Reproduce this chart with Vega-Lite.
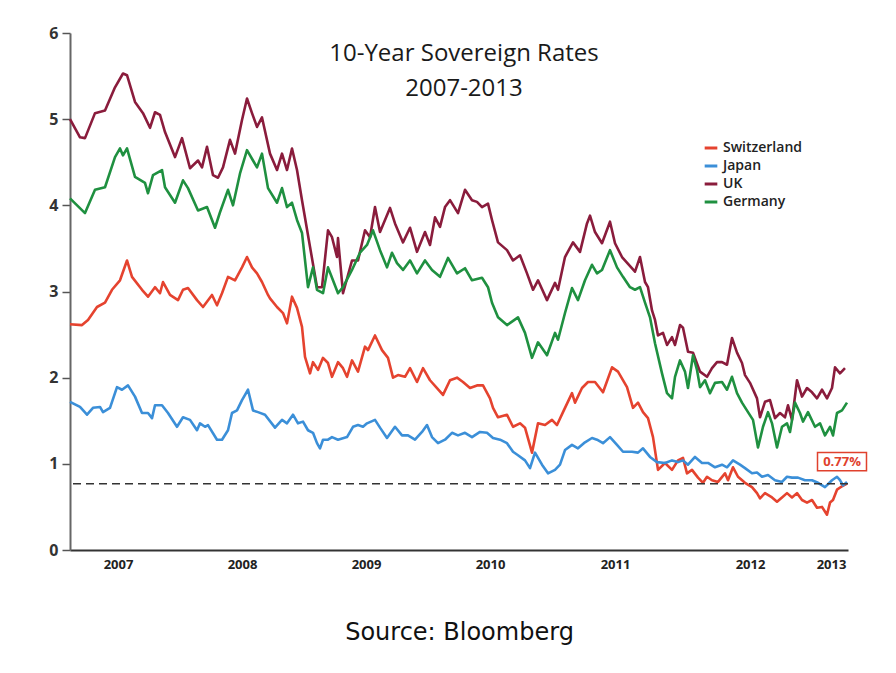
{
  "$schema": "https://vega.github.io/schema/vega-lite/v6.json",
  "width": 778,
  "height": 517,
  "autosize": {"type": "none"},
  "padding": {"left": 70, "top": 33, "right": 48, "bottom": 123},
  "background": "white",
  "title": {
    "text": ["10-Year Sovereign Rates", "2007-2013"],
    "font": "Open Sans",
    "fontSize": 24,
    "fontWeight": "normal",
    "color": "#1a1a1a",
    "anchor": "middle",
    "offset": -76,
    "lineHeight": 35,
    "dx": 5
  },
  "config": {
    "view": {"stroke": null},
    "axis": {"grid": false}
  },
  "datasets": {
    "rates": [
      {"c":"UK","t":2007.064,"v":5.00},{"c":"UK","t":2007.144,"v":4.79},{"c":"UK","t":2007.184,"v":4.78},{"c":"UK","t":2007.264,"v":5.07},{"c":"UK","t":2007.344,"v":5.10},{"c":"UK","t":2007.424,"v":5.37},{"c":"UK","t":2007.488,"v":5.53},{"c":"UK","t":2007.52,"v":5.51},{"c":"UK","t":2007.584,"v":5.20},{"c":"UK","t":2007.648,"v":5.07},{"c":"UK","t":2007.704,"v":4.90},{"c":"UK","t":2007.744,"v":5.08},{"c":"UK","t":2007.784,"v":5.05},{"c":"UK","t":2007.824,"v":4.85},{"c":"UK","t":2007.904,"v":4.56},{"c":"UK","t":2007.96,"v":4.78},{"c":"UK","t":2008.024,"v":4.43},{"c":"UK","t":2008.088,"v":4.52},{"c":"UK","t":2008.12,"v":4.44},{"c":"UK","t":2008.16,"v":4.68},{"c":"UK","t":2008.208,"v":4.35},{"c":"UK","t":2008.248,"v":4.32},{"c":"UK","t":2008.288,"v":4.44},{"c":"UK","t":2008.344,"v":4.76},{"c":"UK","t":2008.384,"v":4.60},{"c":"UK","t":2008.44,"v":4.99},{"c":"UK","t":2008.48,"v":5.24},{"c":"UK","t":2008.52,"v":5.07},{"c":"UK","t":2008.56,"v":4.91},{"c":"UK","t":2008.6,"v":5.02},{"c":"UK","t":2008.664,"v":4.60},{"c":"UK","t":2008.72,"v":4.41},{"c":"UK","t":2008.76,"v":4.60},{"c":"UK","t":2008.8,"v":4.41},{"c":"UK","t":2008.84,"v":4.66},{"c":"UK","t":2008.88,"v":4.41},{"c":"UK","t":2008.92,"v":4.06},{"c":"UK","t":2008.984,"v":3.52},{"c":"UK","t":2009.04,"v":3.05},{"c":"UK","t":2009.08,"v":3.05},{"c":"UK","t":2009.128,"v":3.71},{"c":"UK","t":2009.16,"v":3.63},{"c":"UK","t":2009.2,"v":3.40},{"c":"UK","t":2009.208,"v":3.62},{"c":"UK","t":2009.248,"v":2.98},{"c":"UK","t":2009.32,"v":3.36},{"c":"UK","t":2009.368,"v":3.36},{"c":"UK","t":2009.424,"v":3.71},{"c":"UK","t":2009.464,"v":3.63},{"c":"UK","t":2009.504,"v":3.98},{"c":"UK","t":2009.544,"v":3.69},{"c":"UK","t":2009.624,"v":3.97},{"c":"UK","t":2009.664,"v":3.79},{"c":"UK","t":2009.728,"v":3.57},{"c":"UK","t":2009.784,"v":3.74},{"c":"UK","t":2009.84,"v":3.46},{"c":"UK","t":2009.904,"v":3.69},{"c":"UK","t":2009.944,"v":3.54},{"c":"UK","t":2009.984,"v":3.86},{"c":"UK","t":2010.024,"v":3.75},{"c":"UK","t":2010.064,"v":3.98},{"c":"UK","t":2010.104,"v":4.06},{"c":"UK","t":2010.168,"v":3.91},{"c":"UK","t":2010.224,"v":4.18},{"c":"UK","t":2010.28,"v":4.06},{"c":"UK","t":2010.32,"v":4.04},{"c":"UK","t":2010.36,"v":3.98},{"c":"UK","t":2010.408,"v":4.02},{"c":"UK","t":2010.44,"v":3.83},{"c":"UK","t":2010.488,"v":3.57},{"c":"UK","t":2010.56,"v":3.48},{"c":"UK","t":2010.608,"v":3.36},{"c":"UK","t":2010.664,"v":3.42},{"c":"UK","t":2010.72,"v":3.21},{"c":"UK","t":2010.768,"v":3.02},{"c":"UK","t":2010.808,"v":3.13},{"c":"UK","t":2010.88,"v":2.90},{"c":"UK","t":2010.944,"v":3.10},{"c":"UK","t":2010.968,"v":3.02},{"c":"UK","t":2011.024,"v":3.40},{"c":"UK","t":2011.088,"v":3.57},{"c":"UK","t":2011.144,"v":3.46},{"c":"UK","t":2011.2,"v":3.79},{"c":"UK","t":2011.224,"v":3.88},{"c":"UK","t":2011.264,"v":3.69},{"c":"UK","t":2011.32,"v":3.56},{"c":"UK","t":2011.384,"v":3.81},{"c":"UK","t":2011.424,"v":3.56},{"c":"UK","t":2011.48,"v":3.40},{"c":"UK","t":2011.584,"v":3.23},{"c":"UK","t":2011.624,"v":3.40},{"c":"UK","t":2011.664,"v":3.11},{"c":"UK","t":2011.688,"v":3.05},{"c":"UK","t":2011.72,"v":2.78},{"c":"UK","t":2011.744,"v":2.67},{"c":"UK","t":2011.768,"v":2.49},{"c":"UK","t":2011.808,"v":2.52},{"c":"UK","t":2011.84,"v":2.38},{"c":"UK","t":2011.88,"v":2.47},{"c":"UK","t":2011.904,"v":2.38},{"c":"UK","t":2011.944,"v":2.61},{"c":"UK","t":2011.968,"v":2.58},{"c":"UK","t":2012.008,"v":2.30},{"c":"UK","t":2012.048,"v":2.29},{"c":"UK","t":2012.104,"v":2.07},{"c":"UK","t":2012.16,"v":2.01},{"c":"UK","t":2012.2,"v":2.11},{"c":"UK","t":2012.24,"v":2.18},{"c":"UK","t":2012.28,"v":2.18},{"c":"UK","t":2012.32,"v":2.15},{"c":"UK","t":2012.36,"v":2.46},{"c":"UK","t":2012.4,"v":2.29},{"c":"UK","t":2012.44,"v":2.17},{"c":"UK","t":2012.464,"v":2.03},{"c":"UK","t":2012.504,"v":1.94},{"c":"UK","t":2012.56,"v":1.76},{"c":"UK","t":2012.584,"v":1.54},{"c":"UK","t":2012.624,"v":1.72},{"c":"UK","t":2012.664,"v":1.74},{"c":"UK","t":2012.704,"v":1.53},{"c":"UK","t":2012.744,"v":1.59},{"c":"UK","t":2012.784,"v":1.54},{"c":"UK","t":2012.808,"v":1.68},{"c":"UK","t":2012.84,"v":1.51},{"c":"UK","t":2012.88,"v":1.97},{"c":"UK","t":2012.92,"v":1.78},{"c":"UK","t":2012.96,"v":1.88},{"c":"UK","t":2013.0,"v":1.83},{"c":"UK","t":2013.04,"v":1.76},{"c":"UK","t":2013.08,"v":1.86},{"c":"UK","t":2013.12,"v":1.76},{"c":"UK","t":2013.16,"v":1.88},{"c":"UK","t":2013.184,"v":2.12},{"c":"UK","t":2013.224,"v":2.05},{"c":"UK","t":2013.264,"v":2.11},

      {"c":"Germany","t":2007.064,"v":4.08},{"c":"Germany","t":2007.184,"v":3.91},{"c":"Germany","t":2007.264,"v":4.18},{"c":"Germany","t":2007.344,"v":4.21},{"c":"Germany","t":2007.424,"v":4.56},{"c":"Germany","t":2007.464,"v":4.66},{"c":"Germany","t":2007.488,"v":4.58},{"c":"Germany","t":2007.52,"v":4.66},{"c":"Germany","t":2007.584,"v":4.33},{"c":"Germany","t":2007.664,"v":4.26},{"c":"Germany","t":2007.688,"v":4.14},{"c":"Germany","t":2007.728,"v":4.35},{"c":"Germany","t":2007.8,"v":4.41},{"c":"Germany","t":2007.824,"v":4.21},{"c":"Germany","t":2007.904,"v":4.03},{"c":"Germany","t":2007.968,"v":4.29},{"c":"Germany","t":2008.008,"v":4.20},{"c":"Germany","t":2008.088,"v":3.94},{"c":"Germany","t":2008.16,"v":3.98},{"c":"Germany","t":2008.224,"v":3.74},{"c":"Germany","t":2008.264,"v":3.92},{"c":"Germany","t":2008.328,"v":4.18},{"c":"Germany","t":2008.368,"v":4.00},{"c":"Germany","t":2008.424,"v":4.37},{"c":"Germany","t":2008.48,"v":4.64},{"c":"Germany","t":2008.528,"v":4.52},{"c":"Germany","t":2008.56,"v":4.44},{"c":"Germany","t":2008.6,"v":4.60},{"c":"Germany","t":2008.648,"v":4.20},{"c":"Germany","t":2008.72,"v":4.03},{"c":"Germany","t":2008.76,"v":4.20},{"c":"Germany","t":2008.8,"v":3.98},{"c":"Germany","t":2008.84,"v":4.03},{"c":"Germany","t":2008.88,"v":3.83},{"c":"Germany","t":2008.92,"v":3.68},{"c":"Germany","t":2008.968,"v":3.05},{"c":"Germany","t":2009.008,"v":3.28},{"c":"Germany","t":2009.04,"v":3.02},{"c":"Germany","t":2009.088,"v":2.98},{"c":"Germany","t":2009.128,"v":3.28},{"c":"Germany","t":2009.16,"v":3.16},{"c":"Germany","t":2009.208,"v":2.98},{"c":"Germany","t":2009.248,"v":3.05},{"c":"Germany","t":2009.32,"v":3.25},{"c":"Germany","t":2009.384,"v":3.45},{"c":"Germany","t":2009.44,"v":3.54},{"c":"Germany","t":2009.488,"v":3.71},{"c":"Germany","t":2009.544,"v":3.48},{"c":"Germany","t":2009.6,"v":3.28},{"c":"Germany","t":2009.64,"v":3.45},{"c":"Germany","t":2009.68,"v":3.33},{"c":"Germany","t":2009.728,"v":3.25},{"c":"Germany","t":2009.784,"v":3.36},{"c":"Germany","t":2009.84,"v":3.21},{"c":"Germany","t":2009.904,"v":3.36},{"c":"Germany","t":2009.96,"v":3.25},{"c":"Germany","t":2010.024,"v":3.17},{"c":"Germany","t":2010.088,"v":3.39},{"c":"Germany","t":2010.16,"v":3.21},{"c":"Germany","t":2010.224,"v":3.27},{"c":"Germany","t":2010.28,"v":3.13},{"c":"Germany","t":2010.36,"v":3.16},{"c":"Germany","t":2010.408,"v":3.05},{"c":"Germany","t":2010.44,"v":2.87},{"c":"Germany","t":2010.488,"v":2.70},{"c":"Germany","t":2010.56,"v":2.61},{"c":"Germany","t":2010.6,"v":2.65},{"c":"Germany","t":2010.648,"v":2.70},{"c":"Germany","t":2010.704,"v":2.52},{"c":"Germany","t":2010.76,"v":2.23},{"c":"Germany","t":2010.808,"v":2.41},{"c":"Germany","t":2010.88,"v":2.26},{"c":"Germany","t":2010.944,"v":2.52},{"c":"Germany","t":2010.968,"v":2.44},{"c":"Germany","t":2011.024,"v":2.75},{"c":"Germany","t":2011.08,"v":3.04},{"c":"Germany","t":2011.128,"v":2.90},{"c":"Germany","t":2011.184,"v":3.13},{"c":"Germany","t":2011.24,"v":3.31},{"c":"Germany","t":2011.28,"v":3.21},{"c":"Germany","t":2011.32,"v":3.25},{"c":"Germany","t":2011.384,"v":3.48},{"c":"Germany","t":2011.44,"v":3.28},{"c":"Germany","t":2011.488,"v":3.17},{"c":"Germany","t":2011.544,"v":3.05},{"c":"Germany","t":2011.584,"v":3.02},{"c":"Germany","t":2011.624,"v":3.05},{"c":"Germany","t":2011.664,"v":2.87},{"c":"Germany","t":2011.704,"v":2.70},{"c":"Germany","t":2011.744,"v":2.40},{"c":"Germany","t":2011.8,"v":2.05},{"c":"Germany","t":2011.84,"v":1.82},{"c":"Germany","t":2011.88,"v":1.76},{"c":"Germany","t":2011.904,"v":2.01},{"c":"Germany","t":2011.944,"v":2.20},{"c":"Germany","t":2011.984,"v":2.07},{"c":"Germany","t":2012.008,"v":1.88},{"c":"Germany","t":2012.048,"v":2.26},{"c":"Germany","t":2012.08,"v":2.09},{"c":"Germany","t":2012.104,"v":1.89},{"c":"Germany","t":2012.144,"v":1.97},{"c":"Germany","t":2012.184,"v":1.82},{"c":"Germany","t":2012.224,"v":1.94},{"c":"Germany","t":2012.28,"v":1.95},{"c":"Germany","t":2012.32,"v":1.86},{"c":"Germany","t":2012.36,"v":2.01},{"c":"Germany","t":2012.4,"v":1.82},{"c":"Germany","t":2012.44,"v":1.71},{"c":"Germany","t":2012.488,"v":1.60},{"c":"Germany","t":2012.528,"v":1.51},{"c":"Germany","t":2012.568,"v":1.19},{"c":"Germany","t":2012.608,"v":1.43},{"c":"Germany","t":2012.648,"v":1.60},{"c":"Germany","t":2012.68,"v":1.47},{"c":"Germany","t":2012.72,"v":1.19},{"c":"Germany","t":2012.76,"v":1.43},{"c":"Germany","t":2012.8,"v":1.47},{"c":"Germany","t":2012.824,"v":1.37},{"c":"Germany","t":2012.864,"v":1.71},{"c":"Germany","t":2012.904,"v":1.59},{"c":"Germany","t":2012.928,"v":1.49},{"c":"Germany","t":2012.968,"v":1.60},{"c":"Germany","t":2013.024,"v":1.43},{"c":"Germany","t":2013.064,"v":1.47},{"c":"Germany","t":2013.104,"v":1.33},{"c":"Germany","t":2013.144,"v":1.43},{"c":"Germany","t":2013.168,"v":1.33},{"c":"Germany","t":2013.2,"v":1.59},{"c":"Germany","t":2013.24,"v":1.62},{"c":"Germany","t":2013.28,"v":1.71},

      {"c":"Switzerland","t":2007.064,"v":2.62},{"c":"Switzerland","t":2007.16,"v":2.61},{"c":"Switzerland","t":2007.208,"v":2.67},{"c":"Switzerland","t":2007.28,"v":2.82},{"c":"Switzerland","t":2007.344,"v":2.87},{"c":"Switzerland","t":2007.4,"v":3.02},{"c":"Switzerland","t":2007.464,"v":3.13},{"c":"Switzerland","t":2007.52,"v":3.36},{"c":"Switzerland","t":2007.56,"v":3.17},{"c":"Switzerland","t":2007.64,"v":3.02},{"c":"Switzerland","t":2007.688,"v":2.94},{"c":"Switzerland","t":2007.744,"v":3.05},{"c":"Switzerland","t":2007.784,"v":2.98},{"c":"Switzerland","t":2007.808,"v":3.11},{"c":"Switzerland","t":2007.864,"v":2.96},{"c":"Switzerland","t":2007.928,"v":2.90},{"c":"Switzerland","t":2007.968,"v":3.02},{"c":"Switzerland","t":2008.008,"v":3.04},{"c":"Switzerland","t":2008.08,"v":2.90},{"c":"Switzerland","t":2008.128,"v":2.82},{"c":"Switzerland","t":2008.2,"v":2.96},{"c":"Switzerland","t":2008.24,"v":2.84},{"c":"Switzerland","t":2008.28,"v":2.98},{"c":"Switzerland","t":2008.328,"v":3.17},{"c":"Switzerland","t":2008.384,"v":3.13},{"c":"Switzerland","t":2008.44,"v":3.28},{"c":"Switzerland","t":2008.48,"v":3.40},{"c":"Switzerland","t":2008.52,"v":3.28},{"c":"Switzerland","t":2008.56,"v":3.21},{"c":"Switzerland","t":2008.6,"v":3.11},{"c":"Switzerland","t":2008.648,"v":2.96},{"c":"Switzerland","t":2008.664,"v":2.92},{"c":"Switzerland","t":2008.72,"v":2.82},{"c":"Switzerland","t":2008.768,"v":2.75},{"c":"Switzerland","t":2008.8,"v":2.63},{"c":"Switzerland","t":2008.84,"v":2.94},{"c":"Switzerland","t":2008.88,"v":2.81},{"c":"Switzerland","t":2008.92,"v":2.59},{"c":"Switzerland","t":2008.944,"v":2.24},{"c":"Switzerland","t":2008.984,"v":2.05},{"c":"Switzerland","t":2009.008,"v":2.18},{"c":"Switzerland","t":2009.048,"v":2.09},{"c":"Switzerland","t":2009.088,"v":2.23},{"c":"Switzerland","t":2009.128,"v":2.17},{"c":"Switzerland","t":2009.16,"v":2.01},{"c":"Switzerland","t":2009.208,"v":2.18},{"c":"Switzerland","t":2009.248,"v":2.11},{"c":"Switzerland","t":2009.28,"v":2.01},{"c":"Switzerland","t":2009.32,"v":2.20},{"c":"Switzerland","t":2009.368,"v":2.07},{"c":"Switzerland","t":2009.424,"v":2.36},{"c":"Switzerland","t":2009.448,"v":2.32},{"c":"Switzerland","t":2009.504,"v":2.49},{"c":"Switzerland","t":2009.56,"v":2.32},{"c":"Switzerland","t":2009.608,"v":2.23},{"c":"Switzerland","t":2009.648,"v":2.00},{"c":"Switzerland","t":2009.688,"v":2.03},{"c":"Switzerland","t":2009.744,"v":2.01},{"c":"Switzerland","t":2009.784,"v":2.11},{"c":"Switzerland","t":2009.84,"v":1.95},{"c":"Switzerland","t":2009.888,"v":2.11},{"c":"Switzerland","t":2009.944,"v":1.97},{"c":"Switzerland","t":2010.0,"v":1.88},{"c":"Switzerland","t":2010.048,"v":1.80},{"c":"Switzerland","t":2010.104,"v":1.97},{"c":"Switzerland","t":2010.16,"v":2.00},{"c":"Switzerland","t":2010.208,"v":1.95},{"c":"Switzerland","t":2010.264,"v":1.88},{"c":"Switzerland","t":2010.32,"v":1.91},{"c":"Switzerland","t":2010.368,"v":1.91},{"c":"Switzerland","t":2010.424,"v":1.76},{"c":"Switzerland","t":2010.448,"v":1.65},{"c":"Switzerland","t":2010.488,"v":1.54},{"c":"Switzerland","t":2010.56,"v":1.57},{"c":"Switzerland","t":2010.608,"v":1.43},{"c":"Switzerland","t":2010.664,"v":1.47},{"c":"Switzerland","t":2010.704,"v":1.42},{"c":"Switzerland","t":2010.76,"v":1.13},{"c":"Switzerland","t":2010.808,"v":1.47},{"c":"Switzerland","t":2010.864,"v":1.45},{"c":"Switzerland","t":2010.92,"v":1.51},{"c":"Switzerland","t":2010.96,"v":1.45},{"c":"Switzerland","t":2011.008,"v":1.60},{"c":"Switzerland","t":2011.08,"v":1.82},{"c":"Switzerland","t":2011.104,"v":1.71},{"c":"Switzerland","t":2011.16,"v":1.88},{"c":"Switzerland","t":2011.208,"v":1.95},{"c":"Switzerland","t":2011.264,"v":1.95},{"c":"Switzerland","t":2011.328,"v":1.83},{"c":"Switzerland","t":2011.4,"v":2.12},{"c":"Switzerland","t":2011.448,"v":2.07},{"c":"Switzerland","t":2011.52,"v":1.89},{"c":"Switzerland","t":2011.568,"v":1.65},{"c":"Switzerland","t":2011.608,"v":1.71},{"c":"Switzerland","t":2011.648,"v":1.60},{"c":"Switzerland","t":2011.688,"v":1.53},{"c":"Switzerland","t":2011.728,"v":1.31},{"c":"Switzerland","t":2011.768,"v":0.93},{"c":"Switzerland","t":2011.824,"v":1.01},{"c":"Switzerland","t":2011.88,"v":0.93},{"c":"Switzerland","t":2011.928,"v":1.04},{"c":"Switzerland","t":2011.968,"v":1.07},{"c":"Switzerland","t":2012.0,"v":0.89},{"c":"Switzerland","t":2012.04,"v":0.93},{"c":"Switzerland","t":2012.088,"v":0.84},{"c":"Switzerland","t":2012.128,"v":0.78},{"c":"Switzerland","t":2012.16,"v":0.85},{"c":"Switzerland","t":2012.2,"v":0.81},{"c":"Switzerland","t":2012.248,"v":0.79},{"c":"Switzerland","t":2012.304,"v":0.89},{"c":"Switzerland","t":2012.328,"v":0.81},{"c":"Switzerland","t":2012.368,"v":0.96},{"c":"Switzerland","t":2012.408,"v":0.85},{"c":"Switzerland","t":2012.464,"v":0.78},{"c":"Switzerland","t":2012.52,"v":0.73},{"c":"Switzerland","t":2012.56,"v":0.66},{"c":"Switzerland","t":2012.584,"v":0.60},{"c":"Switzerland","t":2012.624,"v":0.66},{"c":"Switzerland","t":2012.68,"v":0.61},{"c":"Switzerland","t":2012.72,"v":0.56},{"c":"Switzerland","t":2012.76,"v":0.61},{"c":"Switzerland","t":2012.8,"v":0.66},{"c":"Switzerland","t":2012.84,"v":0.61},{"c":"Switzerland","t":2012.88,"v":0.66},{"c":"Switzerland","t":2012.92,"v":0.58},{"c":"Switzerland","t":2012.96,"v":0.55},{"c":"Switzerland","t":2013.0,"v":0.58},{"c":"Switzerland","t":2013.04,"v":0.49},{"c":"Switzerland","t":2013.08,"v":0.50},{"c":"Switzerland","t":2013.12,"v":0.41},{"c":"Switzerland","t":2013.144,"v":0.55},{"c":"Switzerland","t":2013.168,"v":0.58},{"c":"Switzerland","t":2013.2,"v":0.70},{"c":"Switzerland","t":2013.24,"v":0.74},{"c":"Switzerland","t":2013.28,"v":0.77},

      {"c":"Japan","t":2007.064,"v":1.72},{"c":"Japan","t":2007.144,"v":1.66},{"c":"Japan","t":2007.2,"v":1.57},{"c":"Japan","t":2007.248,"v":1.65},{"c":"Japan","t":2007.304,"v":1.66},{"c":"Japan","t":2007.328,"v":1.60},{"c":"Japan","t":2007.384,"v":1.65},{"c":"Japan","t":2007.44,"v":1.89},{"c":"Japan","t":2007.48,"v":1.86},{"c":"Japan","t":2007.528,"v":1.91},{"c":"Japan","t":2007.584,"v":1.78},{"c":"Japan","t":2007.64,"v":1.59},{"c":"Japan","t":2007.688,"v":1.59},{"c":"Japan","t":2007.72,"v":1.53},{"c":"Japan","t":2007.744,"v":1.68},{"c":"Japan","t":2007.8,"v":1.68},{"c":"Japan","t":2007.848,"v":1.59},{"c":"Japan","t":2007.92,"v":1.43},{"c":"Japan","t":2007.968,"v":1.54},{"c":"Japan","t":2008.024,"v":1.51},{"c":"Japan","t":2008.08,"v":1.39},{"c":"Japan","t":2008.104,"v":1.47},{"c":"Japan","t":2008.144,"v":1.43},{"c":"Japan","t":2008.168,"v":1.45},{"c":"Japan","t":2008.24,"v":1.28},{"c":"Japan","t":2008.28,"v":1.28},{"c":"Japan","t":2008.328,"v":1.39},{"c":"Japan","t":2008.36,"v":1.59},{"c":"Japan","t":2008.4,"v":1.62},{"c":"Japan","t":2008.44,"v":1.74},{"c":"Japan","t":2008.488,"v":1.86},{"c":"Japan","t":2008.528,"v":1.62},{"c":"Japan","t":2008.568,"v":1.60},{"c":"Japan","t":2008.624,"v":1.57},{"c":"Japan","t":2008.704,"v":1.42},{"c":"Japan","t":2008.76,"v":1.51},{"c":"Japan","t":2008.8,"v":1.47},{"c":"Japan","t":2008.848,"v":1.57},{"c":"Japan","t":2008.888,"v":1.47},{"c":"Japan","t":2008.928,"v":1.49},{"c":"Japan","t":2008.968,"v":1.39},{"c":"Japan","t":2009.008,"v":1.36},{"c":"Japan","t":2009.04,"v":1.24},{"c":"Japan","t":2009.064,"v":1.18},{"c":"Japan","t":2009.088,"v":1.28},{"c":"Japan","t":2009.128,"v":1.28},{"c":"Japan","t":2009.16,"v":1.31},{"c":"Japan","t":2009.208,"v":1.28},{"c":"Japan","t":2009.28,"v":1.31},{"c":"Japan","t":2009.328,"v":1.43},{"c":"Japan","t":2009.368,"v":1.45},{"c":"Japan","t":2009.408,"v":1.43},{"c":"Japan","t":2009.44,"v":1.47},{"c":"Japan","t":2009.504,"v":1.51},{"c":"Japan","t":2009.544,"v":1.42},{"c":"Japan","t":2009.6,"v":1.30},{"c":"Japan","t":2009.664,"v":1.43},{"c":"Japan","t":2009.72,"v":1.33},{"c":"Japan","t":2009.768,"v":1.33},{"c":"Japan","t":2009.824,"v":1.28},{"c":"Japan","t":2009.88,"v":1.37},{"c":"Japan","t":2009.92,"v":1.45},{"c":"Japan","t":2009.96,"v":1.31},{"c":"Japan","t":2010.008,"v":1.24},{"c":"Japan","t":2010.064,"v":1.28},{"c":"Japan","t":2010.12,"v":1.36},{"c":"Japan","t":2010.168,"v":1.33},{"c":"Japan","t":2010.224,"v":1.36},{"c":"Japan","t":2010.28,"v":1.31},{"c":"Japan","t":2010.344,"v":1.37},{"c":"Japan","t":2010.4,"v":1.36},{"c":"Japan","t":2010.448,"v":1.30},{"c":"Japan","t":2010.504,"v":1.28},{"c":"Japan","t":2010.56,"v":1.24},{"c":"Japan","t":2010.608,"v":1.14},{"c":"Japan","t":2010.648,"v":1.10},{"c":"Japan","t":2010.704,"v":1.04},{"c":"Japan","t":2010.744,"v":0.95},{"c":"Japan","t":2010.784,"v":1.13},{"c":"Japan","t":2010.84,"v":0.99},{"c":"Japan","t":2010.888,"v":0.89},{"c":"Japan","t":2010.944,"v":0.93},{"c":"Japan","t":2010.984,"v":0.99},{"c":"Japan","t":2011.024,"v":1.16},{"c":"Japan","t":2011.08,"v":1.22},{"c":"Japan","t":2011.128,"v":1.18},{"c":"Japan","t":2011.184,"v":1.25},{"c":"Japan","t":2011.24,"v":1.30},{"c":"Japan","t":2011.28,"v":1.28},{"c":"Japan","t":2011.328,"v":1.24},{"c":"Japan","t":2011.384,"v":1.31},{"c":"Japan","t":2011.44,"v":1.22},{"c":"Japan","t":2011.488,"v":1.14},{"c":"Japan","t":2011.56,"v":1.14},{"c":"Japan","t":2011.608,"v":1.13},{"c":"Japan","t":2011.648,"v":1.18},{"c":"Japan","t":2011.704,"v":1.08},{"c":"Japan","t":2011.76,"v":1.02},{"c":"Japan","t":2011.824,"v":1.01},{"c":"Japan","t":2011.88,"v":1.04},{"c":"Japan","t":2011.928,"v":1.02},{"c":"Japan","t":2011.968,"v":1.04},{"c":"Japan","t":2012.008,"v":0.99},{"c":"Japan","t":2012.064,"v":1.08},{"c":"Japan","t":2012.12,"v":1.01},{"c":"Japan","t":2012.168,"v":1.01},{"c":"Japan","t":2012.224,"v":0.96},{"c":"Japan","t":2012.28,"v":0.99},{"c":"Japan","t":2012.32,"v":0.96},{"c":"Japan","t":2012.368,"v":1.04},{"c":"Japan","t":2012.424,"v":0.99},{"c":"Japan","t":2012.464,"v":0.95},{"c":"Japan","t":2012.52,"v":0.89},{"c":"Japan","t":2012.56,"v":0.90},{"c":"Japan","t":2012.6,"v":0.85},{"c":"Japan","t":2012.648,"v":0.87},{"c":"Japan","t":2012.704,"v":0.81},{"c":"Japan","t":2012.76,"v":0.79},{"c":"Japan","t":2012.8,"v":0.85},{"c":"Japan","t":2012.84,"v":0.84},{"c":"Japan","t":2012.888,"v":0.84},{"c":"Japan","t":2012.944,"v":0.81},{"c":"Japan","t":2013.0,"v":0.81},{"c":"Japan","t":2013.048,"v":0.78},{"c":"Japan","t":2013.104,"v":0.73},{"c":"Japan","t":2013.16,"v":0.81},{"c":"Japan","t":2013.2,"v":0.85},{"c":"Japan","t":2013.224,"v":0.81},{"c":"Japan","t":2013.248,"v":0.75},{"c":"Japan","t":2013.28,"v":0.79}
    ],
    "latest": [
      {"c": "Switzerland", "t": 2013.28, "v": 0.77, "label": "0.77%"}
    ]
  },
  "layer": [
    {
      "data": {"name": "rates"},
      "mark": {"type": "line", "strokeWidth": 2.6, "strokeJoin": "round"},
      "encoding": {
        "x": {
          "field": "t",
          "type": "quantitative",
          "scale": {"domain": [2007.064, 2013.288], "nice": false, "zero": false},
          "axis": {
            "values": [2007.448, 2008.44, 2009.432, 2010.424, 2011.424, 2012.504, 2013.152],
            "labelExpr": "format(floor(datum.value), 'd')",
            "ticks": false,
            "domainColor": "#333333",
            "domainWidth": 2,
            "labelFont": "Open Sans",
            "labelFontSize": 13,
            "labelFontWeight": "bold",
            "labelColor": "#222222",
            "labelPadding": 8,
            "labelFlush": false,
            "labelOverlap": false,
            "title": "Source: Bloomberg",
            "titleFont": "DejaVu Sans",
            "titleFontSize": 24,
            "titleFontWeight": "normal",
            "titleColor": "#111111",
            "titlePadding": 49
          }
        },
        "y": {
          "field": "v",
          "type": "quantitative",
          "scale": {"domain": [0, 6], "nice": false},
          "axis": {
            "values": [0, 1, 2, 3, 4, 5, 6],
            "format": "d",
            "title": null,
            "domainColor": "#666666",
            "domainWidth": 2,
            "tickColor": "#555555",
            "tickSize": 8,
            "tickWidth": 1.5,
            "labelFont": "Open Sans",
            "labelFontSize": 16,
            "labelFontWeight": "bold",
            "labelColor": "#333333",
            "labelPadding": 4
          }
        },
        "color": {
          "field": "c",
          "type": "nominal",
          "scale": {
            "domain": ["Switzerland", "Japan", "UK", "Germany"],
            "range": ["#e5432f", "#3b8fd8", "#8a1c3c", "#1f9040"]
          },
          "legend": {
            "orient": "none",
            "legendX": 633,
            "legendY": 107,
            "title": null,
            "symbolType": "stroke",
            "symbolStrokeWidth": 3,
            "symbolSize": 160,
            "labelFont": "Open Sans",
            "labelFontSize": 14,
            "labelFontWeight": 600,
            "labelColor": "#222222",
            "labelOffset": 4,
            "rowPadding": 3
          }
        }
      }
    },
    {
      "data": {"values": [{}]},
      "mark": {"type": "rule", "color": "#333333", "strokeWidth": 1.5, "strokeDash": [8, 5]},
      "encoding": {"y": {"datum": 0.77}}
    },
    {
      "data": {"name": "latest"},
      "mark": {
        "type": "point",
        "shape": "M-1,-0.37H1V0.37H-1Z",
        "size": 2400,
        "filled": true,
        "fill": "white",
        "stroke": "#e0412d",
        "strokeWidth": 1.5,
        "opacity": 1,
        "xOffset": -5,
        "yOffset": -22
      },
      "encoding": {
        "x": {"field": "t", "type": "quantitative"},
        "y": {"field": "v", "type": "quantitative"}
      }
    },
    {
      "data": {"name": "latest"},
      "mark": {
        "type": "text",
        "font": "Open Sans",
        "fontSize": 13,
        "fontWeight": "bold",
        "color": "#e0412d",
        "align": "center",
        "baseline": "middle",
        "xOffset": -5,
        "yOffset": -22
      },
      "encoding": {
        "x": {"field": "t", "type": "quantitative"},
        "y": {"field": "v", "type": "quantitative"},
        "text": {"field": "label"}
      }
    }
  ]
}
